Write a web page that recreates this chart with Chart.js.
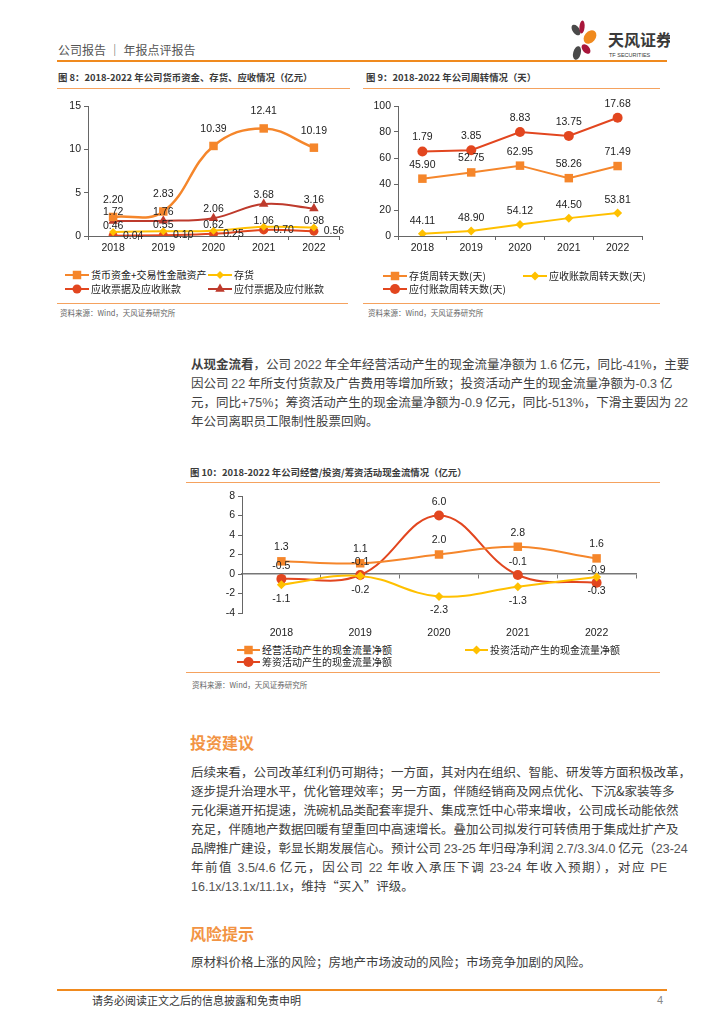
<!DOCTYPE html>
<html>
<head>
<meta charset="utf-8">
<script src="https://cdn.jsdelivr.net/npm/chart.js@4.4.0/dist/chart.umd.min.js"></script>
<style>
  body { margin: 0; width: 724px; height: 1024px; position: relative; background: #fff; overflow: hidden;
         font-family: "Noto Sans CJK SC", "Noto Sans", sans-serif; color: #333; }
  .hl { position: absolute; height: 1px; background: #F5A25E; }
  .ttl { position: absolute; font-size: 9.4px; font-weight: bold; color: #3a3a3a; white-space: nowrap; line-height: 12px; }
  .src { position: absolute; font-size: 7.5px; color: #666; white-space: nowrap; line-height: 10px; }
  .box { position: absolute; }
  .lg { position: absolute; font-size: 10px; color: #222; white-space: nowrap; display: flex; align-items: center; line-height: 14px; }
  .lg canvas { margin-right: 2px; }
  .txt { position: absolute; left: 191px; width: 476px; font-size: 12.5px; color: #404040; }
  .txt div { height: 19px; line-height: 19px; text-align: justify; text-align-last: justify; white-space: nowrap; }
  .txt div.last { text-align-last: left; }
  .num { font-family: "Liberation Sans", sans-serif; color: #555; }
  .sec { position: absolute; left: 190px; font-size: 16px; font-weight: bold; color: #F29444; line-height: 20px; }
</style>
</head>
<body>

<!-- header -->
<div style="position:absolute;left:58px;top:42px;font-size:12px;color:#555;line-height:16px;">公司报告 ｜ 年报点评报告</div>
<div style="position:absolute;left:57px;top:60px;width:610px;height:2px;background:#F08A1E;"></div>
<svg style="position:absolute;left:565px;top:18px;" width="105" height="44" viewBox="565 18 105 44">
  <ellipse cx="576" cy="30" rx="3.5" ry="6" transform="rotate(-35 576 30)" fill="#4a4a4a"/>
  <ellipse cx="582" cy="27" rx="2.6" ry="6.5" transform="rotate(5 582 27)" fill="#A8163B"/>
  <ellipse cx="590" cy="37" rx="5.5" ry="7.5" transform="rotate(40 590 37)" fill="#F08A1E"/>
  <ellipse cx="586" cy="49" rx="3.5" ry="5.5" transform="rotate(-40 586 49)" fill="#A8163B"/>
  <ellipse cx="577" cy="53" rx="3.8" ry="7" transform="rotate(15 577 53)" fill="#4a4a4a"/>
  <text x="608" y="46" font-size="16" font-weight="bold" fill="#3a3a3a" font-family="Noto Sans CJK SC">天风证券</text>
  <text x="609" y="57" font-size="5.5" fill="#3a3a3a" font-family="Liberation Sans">TF SECURITIES</text>
</svg>

<!-- figure titles, rules and sources -->
<div class="ttl" style="left:58px;top:71px;">图 8：2018-2022 年公司货币资金、存货、应收情况（亿元）</div>
<div class="hl" style="left:57px;top:88px;width:293px;"></div>
<div class="ttl" style="left:366px;top:71px;">图 9：2018-2022 年公司周转情况（天）</div>
<div class="hl" style="left:363px;top:88px;width:297px;"></div>
<div class="hl" style="left:57px;top:303px;width:291px;"></div>
<div class="src" style="left:60px;top:308px;">资料来源：Wind，天风证券研究所</div>
<div class="hl" style="left:363px;top:303px;width:297px;"></div>
<div class="src" style="left:368px;top:308px;">资料来源：Wind，天风证券研究所</div>

<div class="box" style="left:50px;top:90px;width:300px;height:175px;"><canvas id="c8"></canvas></div>
<div class="box" style="left:358px;top:90px;width:295px;height:175px;"><canvas id="c9"></canvas></div>

<div class="txt" style="top:354px;">
  <div><b>从现金流看</b>，公司 <span class="num">2022</span> 年全年经营活动产生的现金流量净额为 <span class="num">1.6</span> 亿元，同比<span class="num">-41%</span>，主要</div>
  <div>因公司 <span class="num">22</span> 年所支付货款及广告费用等增加所致；投资活动产生的现金流量净额为<span class="num">-0.3</span> 亿</div>
  <div>元，同比<span class="num">+75%</span>；筹资活动产生的现金流量净额为<span class="num">-0.9</span> 亿元，同比<span class="num">-513%</span>，下滑主要因为 <span class="num">22</span></div>
  <div class="last">年公司离职员工限制性股票回购。</div>
</div>

<div class="ttl" style="left:190px;top:466px;">图 10：2018-2022 年公司经营/投资/筹资活动现金流情况（亿元）</div>
<div class="hl" style="left:186px;top:482px;width:474px;"></div>
<div class="box" style="left:195px;top:484px;width:452px;height:155px;"><canvas id="c10"></canvas></div>
<div class="hl" style="left:186px;top:672px;width:474px;"></div>
<div class="src" style="left:192px;top:680px;">资料来源：Wind，天风证券研究所</div>

<div class="sec" style="top:732px;">投资建议</div>
<div class="txt" style="top:762px;">
  <div>后续来看，公司改革红利仍可期待；一方面，其对内在组织、智能、研发等方面积极改革，</div>
  <div>逐步提升治理水平，优化管理效率；另一方面，伴随经销商及网点优化、下沉&amp;家装等多</div>
  <div>元化渠道开拓提速，洗碗机品类配套率提升、集成烹饪中心带来增收，公司成长动能依然</div>
  <div>充足，伴随地产数据回暖有望重回中高速增长。叠加公司拟发行可转债用于集成灶扩产及</div>
  <div>品牌推广建设，彰显长期发展信心。预计公司 <span class="num">23-25</span> 年归母净利润 <span class="num">2.7/3.3/4.0</span> 亿元（<span class="num">23-24</span></div>
  <div>年前值 <span class="num">3.5/4.6</span> 亿元，因公司 <span class="num">22</span> 年收入承压下调 <span class="num">23-24</span> 年收入预期），对应 <span class="num">PE</span></div>
  <div class="last"><span class="num">16.1x/13.1x/11.1x</span>，维持“买入”评级。</div>
</div>

<div class="sec" style="top:923px;">风险提示</div>
<div class="txt" style="top:952px;">
  <div class="last">原材料价格上涨的风险；房地产市场波动的风险；市场竞争加剧的风险。</div>
</div>

<!-- footer -->
<div style="position:absolute;left:57px;top:989px;width:610px;height:2px;background:#F08A1E;"></div>
<div style="position:absolute;left:92px;top:993px;font-size:11px;color:#333;line-height:14px;">请务必阅读正文之后的信息披露和免责申明</div>
<div style="position:absolute;left:657px;top:993px;font-size:11px;color:#888;line-height:14px;font-family:'Liberation Sans';">4</div>

<script>
// ---- data ----
const years = ['2018', '2019', '2020', '2021', '2022'];

// 图8 (亿元)
const cashAssets  = [2.20, 2.83, 10.39, 12.41, 10.19];
const inventory   = [0.46, 0.55, 0.62, 1.06, 0.98];
const receivables = [0.04, 0.10, 0.25, 0.70, 0.56];
const payables    = [1.72, 1.76, 2.06, 3.68, 3.16];

// 图9 (天) - plotted values and the labels printed next to them
const invDays      = [44.11, 48.90, 54.12, 44.50, 53.81];
const invDaysText  = ['45.90', '52.75', '62.95', '58.26', '71.49'];
const recDays      = [1.79, 3.85, 8.83, 13.75, 17.68];
const recDaysText  = ['44.11', '48.90', '54.12', '44.50', '53.81'];
const payDays      = [65, 66, 80, 77, 91];
const payDaysText  = ['1.79', '3.85', '8.83', '13.75', '17.68'];

// 图10 (亿元)
const opCash  = [1.3, 1.1, 2.0, 2.8, 1.6];
const invCash = [-1.1, -0.2, -2.3, -1.3, -0.3];
const finCash = [-0.5, -0.1, 6.0, -0.1, -0.9];

const ORANGE = '#F5862B', YELLOW = '#FFC000', RED = '#E2461F', DARKRED = '#BE3A2C';
const numFont = { family: 'Liberation Sans', size: 10.5 };

// labels drawn next to the points
const valueLabels = {
  id: 'valueLabels',
  afterDatasetsDraw(chart) {
    const ctx = chart.ctx;
    ctx.save();
    ctx.font = '10.5px "Liberation Sans"';
    ctx.fillStyle = '#222';
    ctx.textAlign = 'center';
    ctx.textBaseline = 'middle';
    chart.data.datasets.forEach((ds, i) => {
      const lab = ds.valueText;
      if (!lab) return;
      chart.getDatasetMeta(i).data.forEach((pt, j) => {
        let x = pt.x, y = pt.y;
        if (lab.pos === 'top') y -= lab.gap;
        else if (lab.pos === 'bottom') y += lab.gap;
        else x += lab.gap;
        ctx.fillText(lab.text[j], x, y);
      });
    });
    ctx.restore();
  }
};

function series(label, data, color, style, r, text, pos, gap, tension, bw) {
  return {
    label, data,
    borderColor: color, backgroundColor: color,
    pointBackgroundColor: color, pointBorderColor: color, pointBorderWidth: 0,
    pointStyle: style, pointRadius: r, pointHoverRadius: r,
    borderWidth: bw || 2, tension: tension, fill: false,
    valueText: { text, pos, gap }
  };
}

function yAxis(min, max, step, w) {
  return {
    min, max,
    ticks: { stepSize: step, color: '#222', font: numFont, padding: 3 },
    grid: { drawOnChartArea: false, drawTicks: true, tickLength: 4, color: '#666' },
    border: { color: '#666', width: 1 },
    afterFit(s) { s.width = w; }
  };
}

function xAxis(h) {
  return {
    offset: true,
    grid: { offset: true, drawOnChartArea: false, tickLength: 4, color: '#666' },
    border: { color: '#666', width: 1 },
    ticks: { color: '#222', font: numFont, padding: 2, maxRotation: 0 },
    afterFit(s) { s.height = h; }
  };
}

function drawMarker(g, ds, w, h) {
  const cx = w / 2, cy = h / 2, r = ds.pointRadius;
  g.strokeStyle = ds.borderColor;
  g.lineWidth = 2;
  g.beginPath(); g.moveTo(0, cy); g.lineTo(w, cy); g.stroke();
  g.fillStyle = ds.pointBackgroundColor;
  g.beginPath();
  if (ds.pointStyle === 'rect') {
    const a = r * Math.SQRT1_2;
    g.rect(cx - a, cy - a, 2 * a, 2 * a);
  } else if (ds.pointStyle === 'rectRot') {
    g.moveTo(cx, cy - r); g.lineTo(cx + r, cy); g.lineTo(cx, cy + r); g.lineTo(cx - r, cy); g.closePath();
  } else if (ds.pointStyle === 'triangle') {
    g.moveTo(cx, cy - r); g.lineTo(cx + r * 0.866, cy + r * 0.5); g.lineTo(cx - r * 0.866, cy + r * 0.5); g.closePath();
  } else {
    g.arc(cx, cy, r, 0, Math.PI * 2);
  }
  g.fill();
}

function buildLegend(chart, cols, rows, mw) {
  chart.data.datasets.forEach((ds, i) => {
    const item = document.createElement('div');
    item.className = 'lg';
    item.style.left = cols[i % 2] + 'px';
    item.style.top = (rows[Math.floor(i / 2)] - 7) + 'px';
    const c = document.createElement('canvas');
    c.width = mw; c.height = 12;
    drawMarker(c.getContext('2d'), ds, mw, 12);
    item.appendChild(c);
    const s = document.createElement('span');
    s.textContent = ds.label;
    item.appendChild(s);
    document.body.appendChild(item);
  });
}

const baseOpts = (scales, top) => ({
  responsive: true,
  maintainAspectRatio: false,
  animation: false,
  layout: { padding: { top: top, right: 11, left: 0, bottom: 0 } },
  plugins: { legend: { display: false }, tooltip: { enabled: false } },
  scales
});

// 图8
const chart8 = new Chart(document.getElementById('c8'), {
  type: 'line',
  data: {
    labels: years,
    datasets: [
      series('货币资金+交易性金融资产', cashAssets, ORANGE, 'rect', 6, cashAssets.map(v => v.toFixed(2)), 'top', 17, 0.4, 2.5),
      series('存货', inventory, YELLOW, 'rectRot', 4, inventory.map(v => v.toFixed(2)), 'top', 6, 0.4),
      series('应收票据及应收账款', receivables, RED, 'circle', 4.5, receivables.map(v => v.toFixed(2)), 'right', 20, 0.4),
      series('应付票据及应付账款', payables, DARKRED, 'triangle', 5.5, payables.map(v => v.toFixed(2)), 'top', 9, 0.4)
    ]
  },
  options: baseOpts({ x: xAxis(29), y: yAxis(0, 15, 5, 38) }, 16),
  plugins: [valueLabels]
});
buildLegend(chart8, [65, 208], [275, 289], 24);

// 图9
const chart9 = new Chart(document.getElementById('c9'), {
  type: 'line',
  data: {
    labels: years,
    datasets: [
      series('存货周转天数(天)', invDays, ORANGE, 'rect', 6, invDaysText, 'top', 14, 0),
      series('应收账款周转天数(天)', recDays, YELLOW, 'rectRot', 4.5, recDaysText, 'top', 13, 0),
      series('应付账款周转天数(天)', payDays, RED, 'circle', 5, payDaysText, 'top', 14, 0)
    ]
  },
  options: baseOpts({ x: xAxis(29), y: yAxis(0, 100, 20, 40) }, 16),
  plugins: [valueLabels]
});
buildLegend(chart9, [383, 523], [276, 289], 24);

// 图10
const chart10 = new Chart(document.getElementById('c10'), {
  type: 'line',
  data: {
    labels: years,
    datasets: [
      series('经营活动产生的现金流量净额', opCash, ORANGE, 'rect', 6, opCash.map(v => v.toFixed(1)), 'top', 14, 0.4),
      series('投资活动产生的现金流量净额', invCash, YELLOW, 'rectRot', 4.5, invCash.map(v => v.toFixed(1)), 'bottom', 14, 0.4),
      series('筹资活动产生的现金流量净额', finCash, RED, 'circle', 5, finCash.map(v => v.toFixed(1)), 'top', 13, 0.4)
    ]
  },
  options: baseOpts({
    x: {
      position: { y: 0 },
      offset: true,
      grid: { offset: true, drawOnChartArea: false, tickLength: 4, color: '#777' },
      border: { color: '#777', width: 1.5 },
      ticks: { display: false },
      afterFit(s) { s.height = 0; }
    },
    xLabels: {
      type: 'category', axis: 'x', position: 'bottom', labels: years, offset: true,
      grid: { display: false }, border: { display: false },
      ticks: { color: '#222', font: numFont, padding: 6, maxRotation: 0 },
      afterFit(s) { s.height = 26; }
    },
    y: yAxis(-4, 8, 2, 47)
  }, 12),
  plugins: [valueLabels]
});
buildLegend(chart10, [237, 465], [650, 662], 23);
</script>
</body>
</html>
